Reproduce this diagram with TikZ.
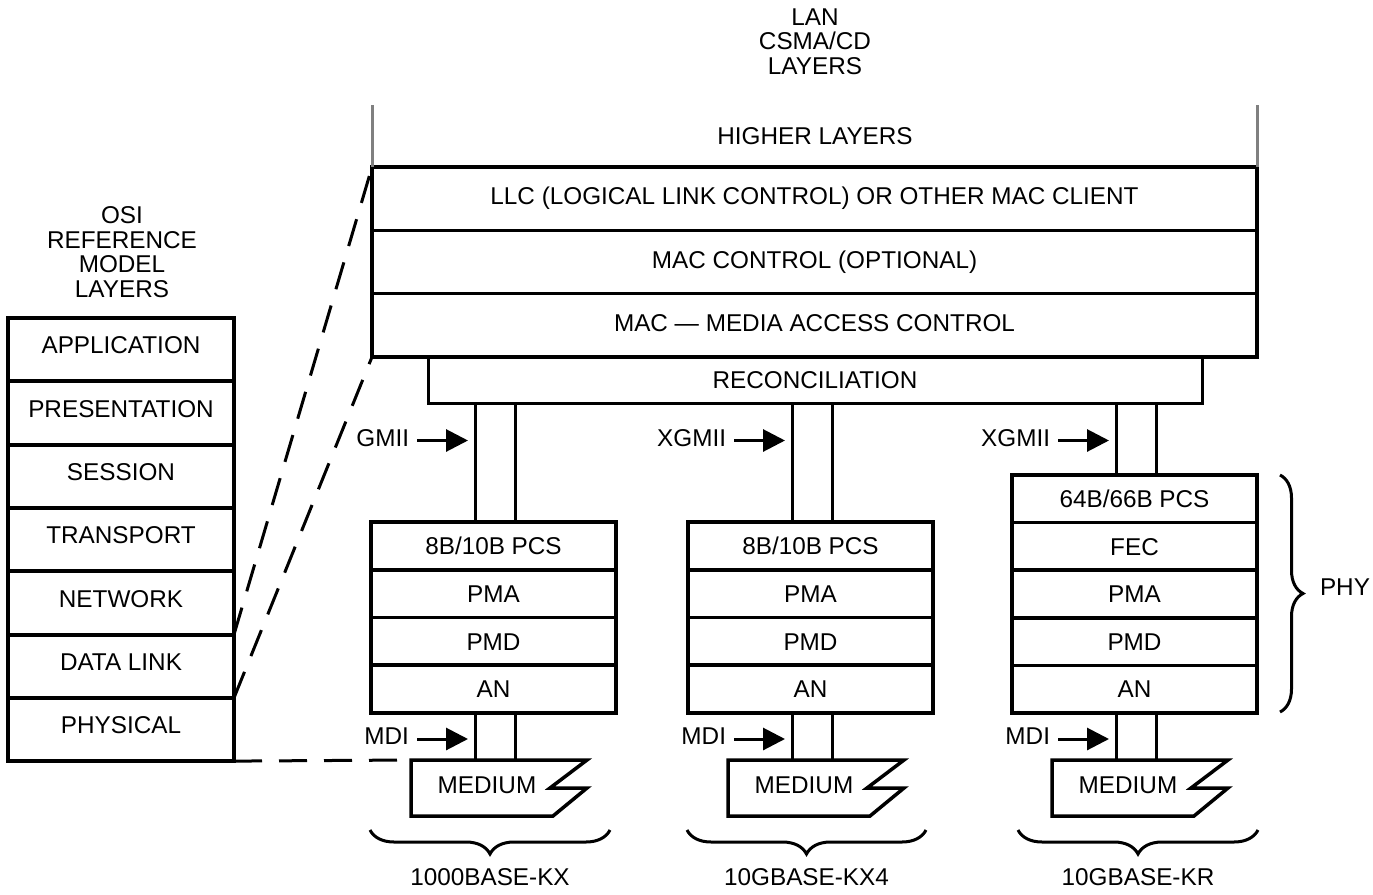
\documentclass[tikz,border=0pt]{standalone}
\usepackage{fontspec}
\setmainfont{Liberation Sans}
\usetikzlibrary{arrows.meta,decorations.pathreplacing}

\begin{document}
\begin{tikzpicture}[x=1pt,y=-1pt,
  every node/.style={font=\fontsize{24.3}{24.7}\selectfont, inner sep=0pt, outer sep=0pt},
  layer/.style={draw, line width=3.5pt, text height=17.4pt, text depth=0pt},
  osirow/.style={layer, line width=4pt, text depth=9pt, minimum width=226pt, minimum height=63.3pt},
  macrow/.style={layer, text depth=5pt, minimum width=885pt, minimum height=63.33pt},
  phyrow/.style={layer, minimum width=245pt, minimum height=47.7pt},
  label/.style={text height=17.4pt, text depth=0pt},
  bus/.style={line width=3pt},
  linkdash/.style={line width=3pt, dash pattern=on 28pt off 17pt},
  feed/.style={line width=3pt, -{Triangle[length=22pt,width=22pt]}},
  brc/.style={line width=3pt, decorate, decoration={brace, amplitude=24pt}},
  edgeline/.style={line width=3pt, draw=black!50},
]
\useasboundingbox (0,0) rectangle (1373,894);

% headings
\node[align=center] (lan) at (815,41.5) {LAN\\CSMA/CD\\LAYERS};
\node[align=center] (osi) at (122,252) {OSI\\REFERENCE\\MODEL\\LAYERS};
\node[label] (higher) at (815,136) {HIGHER LAYERS};

% OSI reference model stack
\foreach \t [count=\i] in {APPLICATION,PRESENTATION,SESSION,TRANSPORT,NETWORK,DATA LINK,PHYSICAL}
  \node[osirow] (osi\i) at (121,{318+63.3*\i-31.65}) {\t};

% LAN layers above the reconciliation sublayer
\node[macrow] (llc) at (814.5,198.7) {LLC (LOGICAL LINK CONTROL) OR OTHER MAC CLIENT};
\node[macrow] (macctl) at (814.5,262) {MAC CONTROL (OPTIONAL)};
\node[macrow] (mac) at (814.5,325.3) {MAC --- MEDIA ACCESS CONTROL};
\node[layer, line width=3pt, minimum width=774pt, minimum height=46pt] (rec) at (815,380) {RECONCILIATION};

% grey boundary of the higher layers
\coordinate (hl) at (372,105);
\coordinate (hr) at (1257,105);
\draw[edgeline] (llc.north west) -- (hl);
\draw[edgeline] (llc.north east) -- (hr);

% PHY stacks
\foreach \t [count=\i] in {8B/10B PCS,PMA,PMD,AN}
  \node[phyrow] (s1-\i) at (493.5,{522+47.75*\i-23.875}) {\t};
\foreach \t [count=\i] in {8B/10B PCS,PMA,PMD,AN}
  \node[phyrow] (s2-\i) at (810.5,{522+47.75*\i-23.875}) {\t};
\foreach \t [count=\i] in {64B/66B PCS,FEC,PMA,PMD,AN}
  \node[phyrow] (s3-\i) at (1134.5,{475+47.6*\i-23.8}) {\t};

% interfaces, media and port-type braces
\foreach \n/\L/\last/\iface/\bl/\br/\port in
   {1/371/4/GMII/370/610/1000BASE-KX,
    2/688/4/XGMII/687/926/10GBASE-KX4,
    3/1012/5/XGMII/1018/1258/10GBASE-KR} {
  \coordinate (a\n) at ({\L+104},0);
  \coordinate (b\n) at ({\L+144},0);
  \coordinate (m\n) at ({\L+40},760);
  % medium symbol
  \draw[line width=3.5pt, line join=miter]
    (m\n) -- ++(176,0) -- ++(-37,28) -- ++(37,0) -- ++(-34,28) -- ++(-142,0) -- cycle;
  \node[label] (med\n) at ({\L+116},785) {MEDIUM};
  % xMII bus
  \draw[bus] (rec.south -| a\n) -- (s\n-1.north -| a\n);
  \draw[bus] (rec.south -| b\n) -- (s\n-1.north -| b\n);
  % MDI
  \draw[bus] (s\n-\last.south -| a\n) -- (m\n -| a\n);
  \draw[bus] (s\n-\last.south -| b\n) -- (m\n -| b\n);
  % interface labels with arrows
  \coordinate (ti\n) at ({\L+97},440.5);
  \node[label, anchor=east] (g\n) at ({\L+38},438) {\iface};
  \draw[feed] ([xshift=8pt]g\n.east |- ti\n) -- (ti\n);
  \coordinate (tm\n) at ({\L+97},739);
  \node[label, anchor=east] (d\n) at ({\L+38},735.5) {MDI};
  \draw[feed] ([xshift=8pt]d\n.east |- tm\n) -- (tm\n);
  % port type
  \coordinate (bl\n) at (\bl,830);
  \coordinate (br\n) at (\br,830);
  \draw[brc, decoration={mirror}] (bl\n) -- (br\n);
  \node[label] (port\n) at ({(\bl+\br)/2},877) {\port};
}

% PHY brace
\coordinate (pt) at (1280,475);
\coordinate (pb) at (1280,712);
\draw[brc, decoration={amplitude=23pt}] (pt) -- (pb);
\node[label] (phy) at (1345,587) {PHY};

% mapping of OSI layers onto the LAN layers
\draw[linkdash] (osi5.south east) -- (llc.north west);
\draw[linkdash] (osi6.south east) -- (mac.south west);
\draw[linkdash] (osi7.south east) -- (m1);
\end{tikzpicture}
\end{document}
